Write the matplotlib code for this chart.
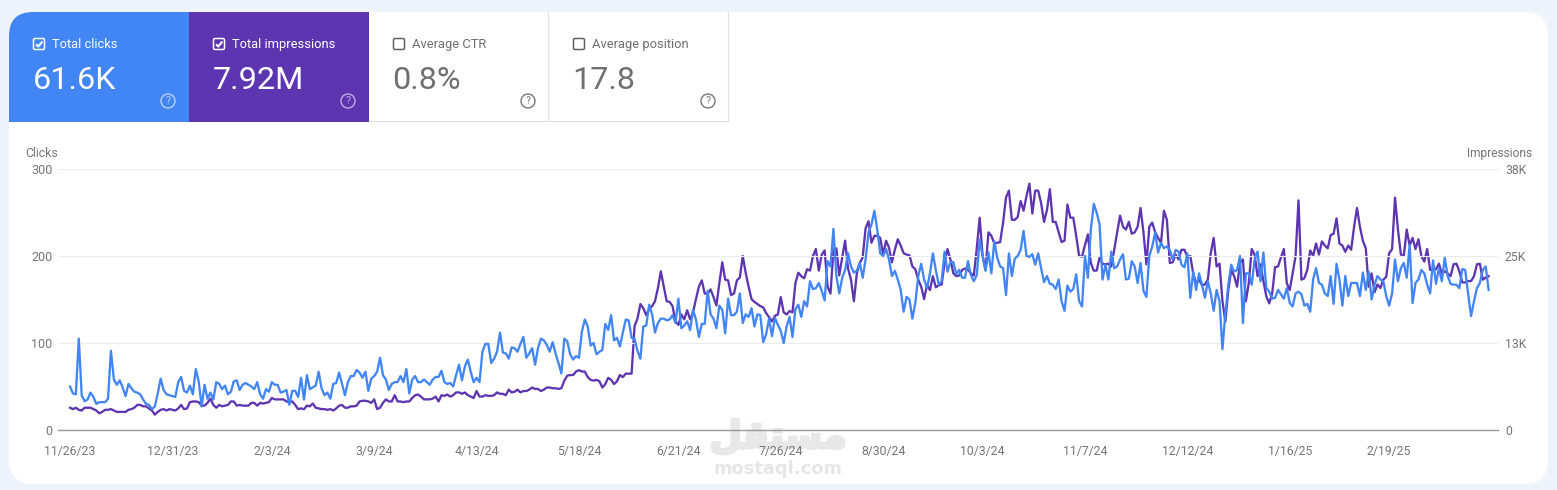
#!/usr/bin/env python3
"""Search performance summary: metric cards above a daily clicks and impressions chart."""

from __future__ import annotations

import matplotlib

matplotlib.use("Agg")
import matplotlib.patheffects as path_effects
import matplotlib.pyplot as plt
import pandas as pd
from matplotlib.patches import Circle, FancyBboxPatch, Rectangle

plt.rcParams["font.family"] = ["Roboto", "DejaVu Sans"]

WIDTH, HEIGHT = 1557, 490
START_DATE = "2023-11-26"

CARD_TITLES = ["Total clicks", "Total impressions", "Average CTR", "Average position"]
CARD_VALUES = ["61.6K", "7.92M", "0.8%", "17.8"]
CARD_ACTIVE = [True, True, False, False]

TICK_DATES = [
    "2023-11-26", "2023-12-31", "2024-02-03", "2024-03-09", "2024-04-13",
    "2024-05-18", "2024-06-21", "2024-07-26", "2024-08-30", "2024-10-03",
    "2024-11-07", "2024-12-12", "2025-01-16", "2025-02-19",
]
TICK_LABELS = [
    "11/26/23", "12/31/23", "2/3/24", "3/9/24", "4/13/24", "5/18/24", "6/21/24",
    "7/26/24", "8/30/24", "10/3/24", "11/7/24", "12/12/24", "1/16/25", "2/19/25",
]
CLICK_TICKS = [0, 100, 200, 300]
IMPRESSION_TICKS = [0, 12.5, 25, 37.5]
IMPRESSION_LABELS = ["0", "13K", "25K", "38K"]

clicks = [
    50, 42, 41, 105, 40, 33, 35, 43, 38, 30, 32, 32, 32, 36, 91, 58, 52, 57, 49, 39,
    53, 48, 44, 43, 41, 35, 30, 29, 24, 27, 42, 59, 46, 41, 40, 39, 38, 55, 61, 45,
    43, 51, 41, 70, 56, 27, 52, 36, 43, 35, 55, 53, 47, 51, 41, 44, 56, 57, 46, 52,
    54, 52, 50, 47, 55, 41, 36, 47, 44, 55, 52, 52, 43, 44, 46, 29, 45, 45, 38, 60,
    35, 63, 47, 49, 51, 67, 48, 40, 43, 36, 53, 54, 66, 53, 40, 55, 62, 62, 69, 66,
    60, 67, 45, 59, 62, 67, 83, 63, 58, 46, 53, 55, 55, 62, 55, 70, 42, 58, 62, 55,
    55, 58, 55, 52,
    58, 61, 61, 68, 55, 53, 54, 50, 63, 75, 57, 73, 81, 67, 55, 60, 55, 90, 99, 99,
    77, 82, 90, 112, 89, 88, 82, 95, 94, 90, 99, 107, 83, 88, 94, 75, 94, 105, 103, 98,
    90, 101, 88, 77, 65, 105, 102, 87, 81, 85, 83, 113, 127, 119, 97, 100, 87, 90, 92, 122,
    115, 132, 103, 106, 96, 112, 127, 126, 106, 105, 91, 82, 119, 120, 144, 133, 112, 123, 128, 128,
    126, 127, 132, 123, 151, 117, 120, 125, 115, 138, 127, 107, 122, 122, 160, 133, 128, 117, 143, 138,
    111, 151, 132, 132, 136, 157, 123, 133, 130, 140, 119, 133, 132, 101, 110, 128, 108, 129, 121, 114,
    100, 119, 130, 107, 139, 144, 130, 148, 142, 171, 162, 163, 169, 160, 149, 194, 188,
    231, 177, 157, 175, 184, 203, 188, 181, 183, 192, 175, 196, 227, 236, 252, 230, 203, 200, 208, 196,
    177, 183, 173, 161, 136, 153, 150, 128, 146, 177, 191, 173, 163, 180, 203, 184, 167, 171, 205, 182,
    193, 193, 179, 184, 175, 175, 194, 178, 171, 178, 219, 200, 183, 204, 180, 217, 198, 188, 186, 155,
    203, 177, 197, 200, 207, 229, 200, 199, 202, 190, 203, 186, 170, 177, 168, 167, 162, 173, 148, 137,
    166, 159, 162, 179, 148, 142, 200, 175, 230, 260, 250, 236, 173, 190, 173, 205, 186, 188, 196, 202,
    173, 174, 194, 188, 169, 192, 160, 153, 200, 211, 227, 204, 215, 209, 211, 207, 196, 207, 205, 190,
    187, 203, 152, 182, 161, 180, 167, 152, 171, 157, 137, 161, 148, 93, 134, 167, 190, 182, 184, 200,
    123, 180, 180, 167, 196, 205, 171, 204, 163, 159, 151, 152, 161, 156, 151, 163, 146, 142, 157, 159,
    156, 143, 145, 136, 173, 186, 169, 167, 157, 154, 177, 145, 191, 173, 143, 177, 154, 169, 169, 169,
    154, 181, 161, 182, 150, 167, 177, 173, 171, 154, 143, 157, 196, 171, 186, 192, 175, 213, 146, 169,
    173, 184, 180, 167, 157, 195, 168, 186, 171, 198, 177, 168, 167, 167, 163, 185, 184, 156, 131, 148,
    163, 169, 184, 188, 161,
]

# impressions per day, in thousands
impressions_k = [
    3.2, 3.0, 3.2, 2.9, 2.8, 3.2, 3.2, 3.2, 3.0, 2.8, 2.4, 2.6, 2.9, 2.9, 3.0, 2.8, 2.6, 2.6, 2.6, 2.6,
    2.9, 3.0, 3.2, 3.6, 3.6, 3.4, 3.4, 3.1, 2.8, 2.2, 2.6, 2.9, 3.0, 2.8, 3.0, 2.9, 2.8, 3.1, 3.6, 3.0,
    3.1, 4.0, 4.1, 4.1, 4.0, 3.5, 3.5, 3.9, 4.5, 3.6, 3.2, 3.6, 3.4, 3.5, 3.6, 4.1, 4.1, 3.5, 3.6, 3.5,
    3.5, 3.5, 3.9, 3.9, 3.5, 3.9, 3.8, 3.9, 4.0, 4.6, 4.4, 4.4, 4.4, 4.4, 4.1, 4.0, 4.1, 3.6, 3.0, 3.1,
    3.0, 3.5, 3.4, 3.8, 3.2, 3.1, 3.0, 3.0, 2.9, 3.0, 2.8, 3.1, 3.5, 3.6, 3.2, 3.2, 3.4, 3.4, 3.5, 4.1,
    4.2, 4.2, 4.1, 3.9, 4.4, 3.0, 3.2, 3.9, 4.4, 4.1, 4.1, 5.0, 4.1, 4.1, 4.0, 4.1, 4.1, 4.6, 5.0, 5.1,
    4.8, 4.4, 4.4, 4.4,
    4.5, 4.8, 4.1, 5.0, 4.9, 5.1, 4.8, 5.0, 5.4, 5.4, 5.2, 5.4, 5.0, 4.8, 4.6, 5.6, 4.8, 4.8, 5.0, 4.9,
    4.9, 5.0, 5.4, 5.2, 5.2, 5.0, 5.8, 5.4, 5.5, 5.8, 5.4, 5.6, 5.6, 5.8, 6.1, 5.9, 5.9, 5.6, 5.8, 6.1,
    6.1, 6.0, 6.0, 5.9, 6.0, 7.1, 7.8, 7.9, 7.9, 8.4, 8.6, 8.4, 8.4, 7.6, 7.2, 7.1, 7.2, 7.0, 6.1, 6.6,
    7.5, 7.2, 6.6, 7.0, 7.9, 7.6, 8.1, 8.1, 8.1, 14.9, 16.0, 18.1, 17.5, 16.5, 17.4, 17.8, 18.5, 20.4, 22.8, 20.6,
    18.5, 18.4, 17.8, 15.6, 15.1, 16.6, 15.9, 17.2, 15.9, 16.9, 18.8, 20.6, 21.5, 19.6, 19.6, 20.2, 19.1, 17.9, 21.1, 24.1,
    21.6, 21.5, 19.4, 19.6, 21.5, 21.9, 25.0, 22.6, 20.6, 18.8, 18.4, 18.1, 17.8, 17.6, 16.8, 16.2, 15.6, 16.4, 16.6, 19.1,
    16.9, 16.6, 17.1, 16.9, 21.1, 22.6, 22.1, 21.8, 23.1, 22.9, 25.0, 26.0, 22.9, 25.2, 25.8, 20.6, 19.6,
    25.9, 26.1, 22.2, 24.8, 27.2, 23.2, 21.6, 18.5, 22.5, 24.0, 24.8, 29.0, 30.0, 26.9, 27.9, 27.9, 27.6, 25.2, 27.2, 26.2,
    24.1, 25.9, 27.4, 26.5, 25.4, 25.2, 25.1, 23.5, 23.1, 21.6, 20.6, 18.8, 20.9, 20.1, 22.1, 20.5, 20.8, 20.9, 24.0, 26.0,
    24.5, 22.5, 22.1, 22.2, 23.0, 23.2, 23.0, 22.5, 22.2, 26.1, 30.5, 25.0, 23.0, 28.4, 27.9, 26.8, 26.9, 27.0, 29.8, 33.4,
    34.4, 30.2, 30.2, 30.6, 32.9, 31.5, 33.6, 35.4, 31.1, 34.4, 34.4, 32.6, 29.9, 31.6, 34.6, 29.9, 29.9, 28.4, 27.0, 27.2,
    32.4, 30.5, 30.5, 27.9, 25.0, 24.9, 26.6, 28.1, 24.0, 22.9, 22.9, 24.8, 23.9, 23.8, 23.9, 23.5, 25.9, 28.4, 30.8, 29.2,
    28.8, 29.9, 28.2, 28.4, 29.2, 31.9, 28.4, 23.8, 29.2, 29.8, 28.4, 27.6, 26.9, 31.5, 30.2, 24.0, 24.1, 25.2, 24.5, 25.9,
    25.9, 24.9, 25.0, 22.5, 21.1, 21.6, 20.8, 20.9, 21.6, 25.4, 27.6, 23.5, 23.9, 18.5, 15.6, 20.1, 23.0, 22.1, 20.6, 24.0,
    24.5, 18.5, 21.1, 26.0, 25.2, 22.1, 23.8, 21.4, 19.2, 18.2, 19.6, 23.4, 23.5, 24.8, 26.0, 21.1, 20.1, 22.5, 25.0, 33.0,
    21.6, 21.8, 23.0, 25.8, 25.0, 26.8, 25.2, 27.1, 26.5, 26.1, 28.0, 28.2, 30.4, 26.8, 26.5, 25.6, 26.5, 25.9, 29.2, 31.9,
    29.2, 27.2, 26.1, 20.6, 22.5, 19.8, 20.9, 20.4, 21.6, 22.0, 25.4, 26.0, 33.4, 28.8, 25.2, 25.0, 28.8, 26.5, 27.6, 26.0,
    27.4, 25.0, 24.2, 26.0, 23.0, 23.0, 23.1, 23.9, 22.5, 22.8, 22.5, 22.1, 23.8, 23.9, 22.8, 21.2, 21.2, 21.4, 21.4, 22.1,
    23.8, 23.9, 21.6, 21.9, 22.1,
]

BLUE = "#4285f4"
PURPLE = "#5e35b1"
PAGE = "#eff3fb"
GREY_TEXT = "#757575"
GRID = "#ececec"


def draw_checkbox(canvas, x, y, color, checked):
    canvas.add_patch(
        FancyBboxPatch(
            (x + 1, y + 1), 11, 11,
            boxstyle="round,pad=0,rounding_size=1.5",
            facecolor="none", edgecolor=color, linewidth=1.1, zorder=4,
        )
    )
    if checked:
        canvas.plot(
            [x + 3.6, x + 5.8, x + 9.8], [y + 6.8, y + 9.0, y + 4.0],
            color=color, linewidth=1.5, zorder=4, solid_capstyle="butt",
        )


def draw_cards(canvas, panel):
    for index, (title, value, active) in enumerate(zip(CARD_TITLES, CARD_VALUES, CARD_ACTIVE)):
        left = 9 + index * 180
        ink = "white" if active else "#6f6f6f"
        if active:
            card = Rectangle((left, 12), 180, 110, facecolor=[BLUE, PURPLE][index], zorder=2)
            canvas.add_patch(card)
            card.set_clip_path(panel)
        else:
            canvas.plot(
                [left, left + 179.5, left + 179.5], [121.5, 121.5, 12],
                color="#e0e0e0", linewidth=0.9, zorder=2,
            )
        draw_checkbox(canvas, left + 23.5, 37.5, "white" if active else "#5f6368", active)
        canvas.text(left + 43, 44.5, title, color=ink, fontsize=9.3, va="center", ha="left", zorder=4)
        canvas.text(left + 23.5, 80.5, value, color=ink, fontsize=23.3, va="center", ha="left", zorder=4)
        help_color = "#b8d2fb" if index == 0 else "#bcaee0" if index == 1 else "#777777"
        canvas.add_patch(Circle((left + 159, 101), 7, facecolor="none", edgecolor=help_color, linewidth=1.0, zorder=4))
        canvas.text(left + 159, 101.2, "?", color=help_color, fontsize=7.6, ha="center", va="center", zorder=4)


def main() -> None:
    fig = plt.figure(figsize=(WIDTH / 100, HEIGHT / 100), dpi=100, facecolor=PAGE)

    canvas = fig.add_axes((0, 0, 1, 1))
    canvas.set_xlim(0, WIDTH)
    canvas.set_ylim(HEIGHT, 0)
    canvas.axis("off")
    panel = FancyBboxPatch(
        (9, 12), 1539, 472,
        boxstyle="round,pad=0,rounding_size=24",
        facecolor="white", edgecolor="none", zorder=1,
    )
    canvas.add_patch(panel)
    draw_cards(canvas, panel)

    # watermark sits under the chart
    canvas.text(
        778, 438, "\ufede\ufed8\ufe98\ufeb4\ufee3", family="DejaVu Sans", fontweight="bold",
        fontsize=27, color="#e8e8e8", ha="center", va="center", zorder=2,
        path_effects=[path_effects.withStroke(linewidth=2.2, foreground="#e8e8e8")],
    )
    canvas.text(
        778, 468.5, "mostaql.com", family="DejaVu Sans", fontweight="bold",
        fontsize=12.9, color="#e6e6e6", ha="center", va="center", zorder=2,
    )

    days = pd.date_range(START_DATE, periods=len(clicks), freq="D")
    impression_days = pd.date_range(START_DATE, periods=len(impressions_k), freq="D")
    ticks = pd.to_datetime(TICK_DATES)

    left, right, top, bottom = 58, 1498, 169, 430
    ax = fig.add_axes((left / WIDTH, 1 - bottom / HEIGHT, (right - left) / WIDTH, (bottom - top) / HEIGHT))
    ax.patch.set_alpha(0)
    ax_right = ax.twinx()
    ax_right.patch.set_alpha(0)

    day_px = 2.925
    first = pd.Timestamp(START_DATE)
    ax.set_xlim(first + pd.Timedelta(days=(left - 70) / day_px), first + pd.Timedelta(days=(right - 70) / day_px))
    ax.set_ylim(0, 300)
    ax_right.set_ylim(0, 37.5)

    ax_right.plot(impression_days, impressions_k, color=PURPLE, linewidth=1.65, zorder=2)
    ax.set_zorder(ax_right.get_zorder() + 1)
    ax.plot(days, clicks, color=BLUE, linewidth=1.65, zorder=3)

    ax.set_yticks(CLICK_TICKS)
    ax.grid(axis="y", color=GRID, linewidth=0.8)
    ax.set_axisbelow(True)
    ax.set_xticks(ticks, TICK_LABELS)
    ax.tick_params(axis="x", length=0, labelsize=8.8, labelcolor=GREY_TEXT, pad=10.5)
    ax.tick_params(axis="y", length=0, labelsize=9.0, labelcolor=GREY_TEXT, pad=4)
    ax_right.set_yticks(IMPRESSION_TICKS, IMPRESSION_LABELS)
    ax_right.tick_params(axis="y", length=0, labelsize=8.8, labelcolor=GREY_TEXT, pad=5)
    for axis in (ax, ax_right):
        axis.spines[["top", "left", "right"]].set_visible(False)
        axis.spines["bottom"].set_color("#9e9e9e")
        axis.spines["bottom"].set_linewidth(0.9)

    canvas.text(25, 153, "Clicks", fontsize=8.8, color=GREY_TEXT, ha="left", va="center", zorder=4)
    canvas.text(1532, 153, "Impressions", fontsize=8.6, color=GREY_TEXT, ha="right", va="center", zorder=4)

    fig.savefig("out.png", dpi=100, facecolor=PAGE)
    plt.close(fig)


if __name__ == "__main__":
    main()
